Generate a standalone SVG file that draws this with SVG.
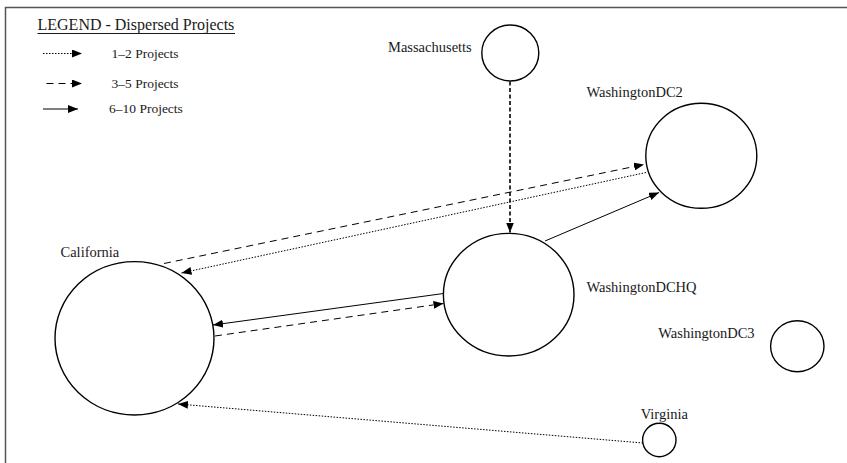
<svg xmlns="http://www.w3.org/2000/svg" width="847" height="463" viewBox="0 0 847 463">
  <defs>
    <style>
      text { font-family: "Liberation Serif", "Times New Roman", serif; fill: #1a1a1a; }
      .lbl { font-size: 14.5px; }
      .leg { font-size: 13.5px; }
      .title { font-size: 16px; }
      .node { fill: #fff; stroke: #000; stroke-width: 1.4; }
      .edge { fill: none; stroke: #000; stroke-width: 1; }
      .dot { stroke-dasharray: 1.5 1.5; }
      .dash { stroke-dasharray: 7 5; }
      .dense { stroke-dasharray: 4 2.5; stroke-width: 1.6; }
      .frame { fill: none; stroke: #555; stroke-width: 1.5; }
    </style>
    <marker id="arrow" viewBox="0 0 10 8" refX="10" refY="4" markerWidth="10" markerHeight="8" markerUnits="userSpaceOnUse" orient="auto">
      <path d="M0,0 L10,4 L0,8 z" fill="#000"/>
    </marker>
  </defs>

  <rect width="847" height="463" fill="#fff"/>
  <!-- outer frame: only the top and left edges fall inside the canvas -->
  <path class="frame" d="M5.5,470 L5.5,7.5 L850,7.5"/>

  <!-- legend -->
  <g id="legend">
    <text class="title" x="37.5" y="30">LEGEND - Dispersed Projects</text>
    <line x1="37.5" y1="33.5" x2="235" y2="33.5" stroke="#1a1a1a" stroke-width="1"/>
    <line class="edge dot" x1="43" y1="53.5" x2="82" y2="53.5" marker-end="url(#arrow)"/>
    <text class="leg" x="111.5" y="57.5">1–2 Projects</text>
    <line class="edge dash" x1="46.5" y1="83.5" x2="82" y2="83.5" stroke-dasharray="7 5" marker-end="url(#arrow)"/>
    <text class="leg" x="111.5" y="88">3–5 Projects</text>
    <line class="edge" x1="43" y1="109" x2="78" y2="109" marker-end="url(#arrow)"/>
    <text class="leg" x="109" y="113">6–10 Projects</text>
  </g>

  <!-- connectors -->
  <g id="connectors">
    <line class="edge dense" x1="510" y1="81.5" x2="510" y2="232.5" marker-end="url(#arrow)"/>
    <line class="edge" x1="545" y1="241" x2="659" y2="192.5" marker-end="url(#arrow)"/>
    <line class="edge dash" x1="164" y1="263.5" x2="644" y2="164.5" marker-end="url(#arrow)"/>
    <line class="edge dot" x1="646" y1="172.5" x2="181.5" y2="273" marker-end="url(#arrow)"/>
    <line class="edge" x1="443.5" y1="293.5" x2="213" y2="325" marker-end="url(#arrow)"/>
    <line class="edge dash" x1="215" y1="336" x2="443.5" y2="303.5" marker-end="url(#arrow)"/>
    <line class="edge dot" x1="643" y1="443" x2="178" y2="404" marker-end="url(#arrow)"/>
  </g>

  <!-- nodes -->
  <g id="massachusetts">
    <ellipse class="node" cx="510.3" cy="53" rx="28.5" ry="28"/>
    <text class="lbl" x="388" y="52">Massachusetts</text>
  </g>
  <g id="washingtondc2">
    <ellipse class="node" cx="701.3" cy="155.8" rx="55.5" ry="52.5"/>
    <text class="lbl" x="586.5" y="96.5">WashingtonDC2</text>
  </g>
  <g id="washingtondchq">
    <ellipse class="node" cx="508.7" cy="294.7" rx="65.3" ry="61.3"/>
    <text class="lbl" x="586.5" y="291.5">WashingtonDCHQ</text>
  </g>
  <g id="california">
    <ellipse class="node" cx="134.5" cy="338.3" rx="79.5" ry="76.7"/>
    <text class="lbl" x="60.5" y="256.5">California</text>
  </g>
  <g id="washingtondc3">
    <ellipse class="node" cx="797.3" cy="346.2" rx="26.7" ry="25.5"/>
    <text class="lbl" x="658.3" y="337.5">WashingtonDC3</text>
  </g>
  <g id="virginia">
    <ellipse class="node" cx="659.3" cy="440" rx="16.7" ry="16.7"/>
    <text class="lbl" x="640.7" y="419">Virginia</text>
  </g>
</svg>
